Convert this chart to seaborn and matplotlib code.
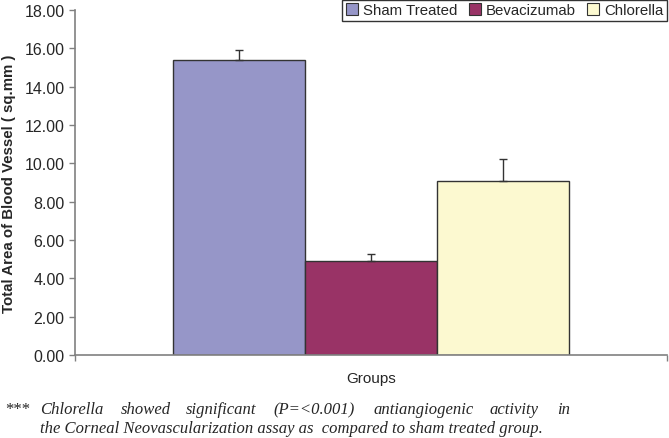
import pandas as pd
import matplotlib
matplotlib.use('Agg')
import matplotlib.pyplot as plt
import seaborn as sns

# data
groups = ['Sham Treated', 'Bevacizumab', 'Chlorella']
area = [15.4, 4.9, 9.1]
err = [0.5, 0.35, 1.1]
colors = ['#9696C8', '#993366', '#FCF9D0']

df = pd.DataFrame({'Groups': ['Groups'] * 3, 'Treatment': groups, 'Area': area})

sns.set_style('white')
plt.rcParams['font.family'] = ['Liberation Sans', 'DejaVu Sans']

fig = plt.figure(figsize=(6.69, 4.39), dpi=100)
ax = fig.add_axes([0.112, 0.189, 0.885, 0.786])

sns.barplot(data=df, x='Groups', y='Area', hue='Treatment', palette=colors,
            saturation=1, width=0.67, gap=0, edgecolor='#333333', linewidth=1.0,
            errorbar=None, ax=ax)

# one sided error bars, excel style
centers = [p.get_x() + p.get_width() / 2 for p in ax.patches[:3]]
ax.errorbar(centers, area, yerr=[[0, 0, 0], err], fmt='none',
            ecolor='#333333', elinewidth=1, capsize=3, capthick=1)

ax.set_ylim(0, 18)
ax.set_xlim(-0.5, 0.5)
ax.set_yticks(range(0, 19, 2))
ax.set_yticklabels(['%.2f' % v for v in range(0, 19, 2)], fontsize=11.5)
ax.set_xticks([-0.5, 0.5])
ax.set_xticklabels(['', ''])
ax.tick_params(axis='both', direction='out', length=4, color='#808080', width=1,
               left=True, bottom=True)
ax.set_xlabel('Groups', fontsize=11, labelpad=4)
ax.set_ylabel('Total Area of Blood Vessel ( sq.mm )', fontsize=10.8,
              fontweight='bold', labelpad=6)
for s in ['top', 'right']:
    ax.spines[s].set_visible(False)
for s in ['left', 'bottom']:
    ax.spines[s].set_color('#808080')
    ax.spines[s].set_linewidth(1.2)

leg = ax.legend(loc='upper right', bbox_to_anchor=(1.0, 1.03), ncol=3,
                fontsize=10.8, frameon=True, fancybox=False, edgecolor='black',
                handlelength=0.8, handleheight=0.8, handletextpad=0.3,
                columnspacing=0.8, borderpad=0.25, borderaxespad=0)
leg.get_frame().set_linewidth(1)
for h in leg.legend_handles:
    h.set_edgecolor('#333333')
    h.set_linewidth(0.8)

# footnote (justified first line, words placed one by one)
serif = ['Liberation Serif', 'DejaVu Serif']
fig.text(5 / 669, 1 - 410 / 439, '***', fontsize=12, family=serif, va='center')
words = ['Chlorella', 'showed', 'significant', '(P=<0.001)', 'antiangiogenic',
         'activity', 'in']
xs = [40, 121, 186, 273, 373, 490, 557]
for w, x in zip(words, xs):
    fig.text(x / 669, 1 - 410 / 439, w, fontsize=12, family=serif,
             style='italic', va='center')
fig.text(40 / 669, 1 - 429 / 439,
         'the Corneal Neovascularization assay as  compared to sham treated group.',
         fontsize=12, family=serif, style='italic', va='center')

fig.savefig('out.png', dpi=100)
